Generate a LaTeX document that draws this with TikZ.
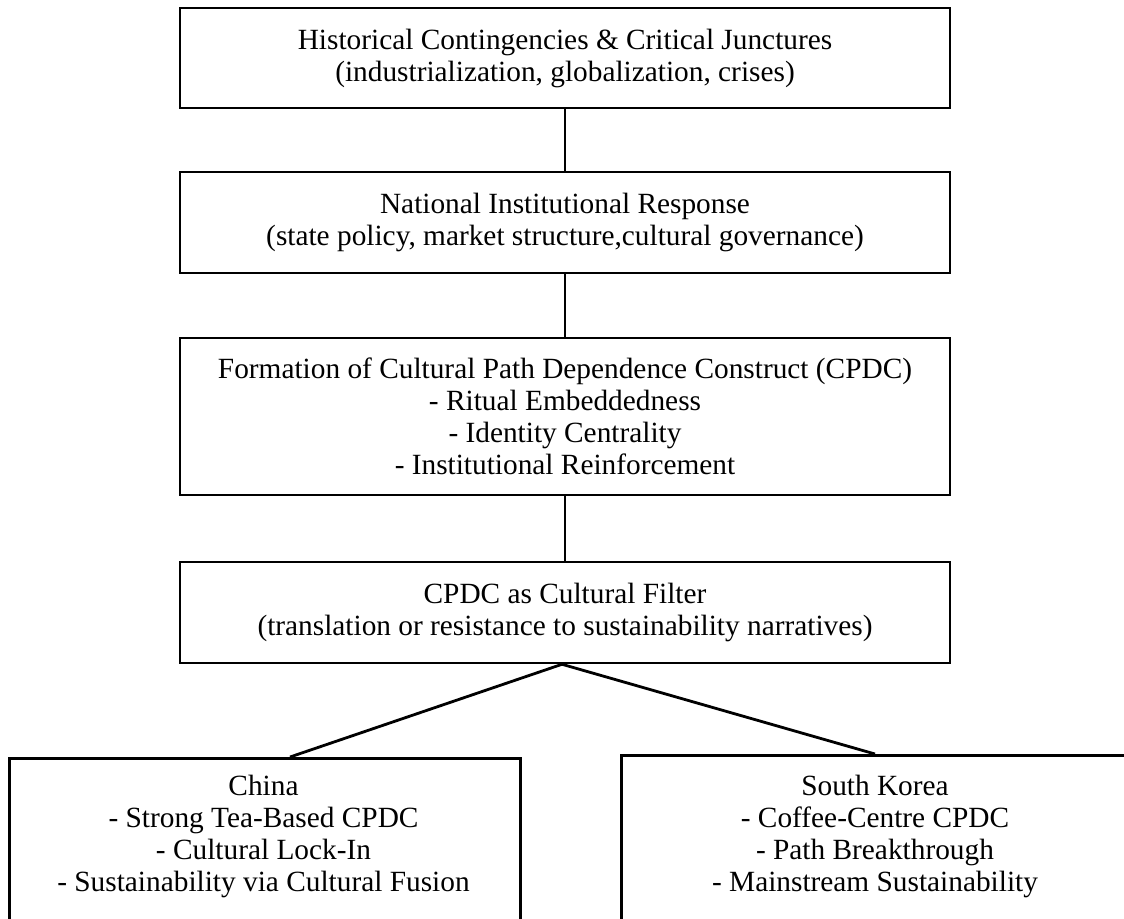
\documentclass[tikz,border=0pt]{standalone}
\usepackage{fontspec}
\setmainfont{Liberation Serif}
\begin{document}
\begin{tikzpicture}[x=0.75pt,y=-0.75pt,
  box/.style={draw=black,line width=1.9pt,rectangle,inner sep=0pt},
  txt/.style={align=center,font=\fontsize{22}{24}\selectfont,inner sep=0pt},
  link/.style={draw=black,line width=2.1pt}]
\useasboundingbox (0,0) rectangle (1124,918);
\clip (0,0) rectangle (1124,918);
% main boxes
\node[box,minimum width=770*0.75pt,minimum height=100*0.75pt] (b1) at (565,58) {};
\node[txt] at (b1.center) {Historical Contingencies \& Critical Junctures\\(industrialization, globalization, crises)};
\node[box,minimum width=770*0.75pt,minimum height=101*0.75pt] (b2) at (565,222.5) {};
\node[txt] at (b2.center) {National Institutional Response\\(state policy, market structure,cultural governance)};
\node[box,minimum width=770*0.75pt,minimum height=157*0.75pt] (b3) at (565,416.5) {};
\node[txt] at (b3.center) {Formation of Cultural Path Dependence Construct (CPDC)\\- Ritual Embeddedness\\- Identity Centrality\\- Institutional Reinforcement};
\node[box,minimum width=770*0.75pt,minimum height=101*0.75pt] (b4) at (565,612.5) {};
\node[txt] at (b4.center) {CPDC as Cultural Filter\\(translation or resistance to sustainability narratives)};
% bottom boxes (cut off by the page edge)
\node[box,anchor=north west,minimum width=511*0.75pt,minimum height=220*0.75pt] (cn) at (8,757) {};
\node[txt,anchor=north] (cntxt) at (263.5,775) {China\\- Strong Tea-Based CPDC\\- Cultural Lock-In\\- Sustainability via Cultural Fusion};
\node[box,anchor=north west,minimum width=520*0.75pt,minimum height=220*0.75pt] (kr) at (620,754) {};
\node[txt,anchor=north] (krtxt) at (875,775) {South Korea\\- Coffee-Centre CPDC\\- Path Breakthrough\\- Mainstream Sustainability};
% connectors
\draw[link] (b1.south) -- (b2.north);
\draw[link] (b2.south) -- (b3.north);
\draw[link] (b3.south) -- (b4.north);
\coordinate (split) at ([xshift=-3*0.75pt]b4.south);
\draw[link] (split) -- (cn.north -| 290,0);
\draw[link] (split) -- (kr.north -| 875,0);
\end{tikzpicture}
\end{document}
